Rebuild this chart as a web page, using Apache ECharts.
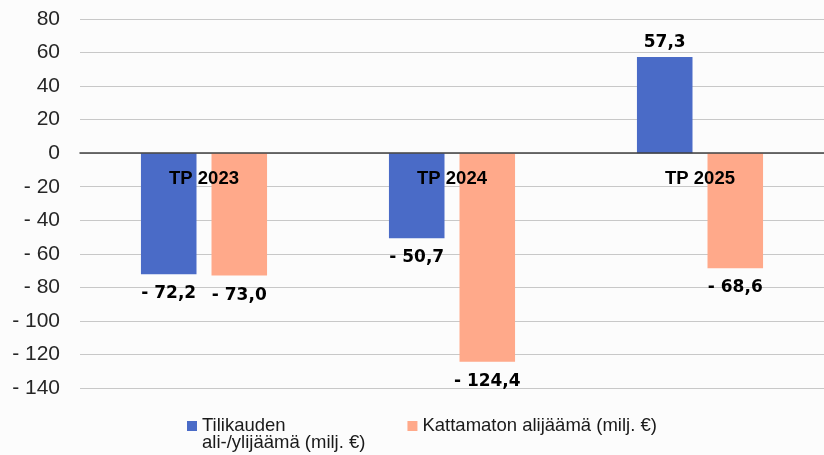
<!DOCTYPE html>
<html>
<head>
<meta charset="utf-8">
<script src="https://cdn.jsdelivr.net/npm/echarts@6/dist/echarts.min.js"></script>
<style>
html,body{margin:0;padding:0;background:#fcfcfc;}
#chart{width:824px;height:455px;}
</style>
</head>
<body>
<div id="chart"></div>
<script>
const categories = ['TP 2023', 'TP 2024', 'TP 2025'];
const seriesNames = ['Tilikauden\nali-/ylijäämä (milj. €)', 'Kattamaton alijäämä (milj. €)'];
const tilikaudenValues = [-72.2, -50.7, 57.3];
const kattamatonValues = [-73.0, -124.4, -68.6];
const yMin = -140, yMax = 80, yStep = 20;

function fmtNum(v) {
  const s = Math.abs(v).toFixed(1).replace('.', ',');
  return v < 0 ? '- ' + s : s;
}
function fmtTick(v) {
  return v < 0 ? '- ' + Math.abs(v) : String(v);
}
function withLabelDist(arr) {
  return arr.map(v => ({value: v, label: {distance: v < 0 ? 11 : 6}}));
}

const GRID_TOP = 19, GRID_BOTTOM = 67, H = 455;
const plotH = H - GRID_TOP - GRID_BOTTOM;
const zeroFromBottom = plotH * (0 - yMin) / (yMax - yMin);

const chart = echarts.init(document.getElementById('chart'), null, {renderer: 'canvas'});
const font = 'Liberation Sans, Arial, sans-serif';
const labelCfg = {
  show: true,
  position: 'outside',
  distance: 8,
  fontFamily: 'DejaVu Sans, sans-serif',
  fontSize: 17,
  fontWeight: 'bold',
  color: '#000',
  formatter: p => fmtNum(p.value)
};
chart.setOption({
  backgroundColor: '#fcfcfc',
  animation: false,
  textStyle: {fontFamily: font},
  grid: {left: 80, right: -7, top: GRID_TOP, bottom: GRID_BOTTOM},
  legend: {
    data: seriesNames,
    left: 187,
    top: 400,
    padding: 0,
    itemWidth: 10,
    itemHeight: 10,
    itemGap: 42,
    icon: 'rect',
    formatter: n => (n.indexOf('\n') >= 0 ? '\n' + n : n),
    textStyle: {fontFamily: font, fontSize: 18.5, lineHeight: 16.5, color: '#1a1a1a'}
  },
  xAxis: {
    type: 'category',
    data: categories,
    z: 10,
    axisLine: {onZero: true, lineStyle: {color: '#404040', width: 1.5}},
    axisTick: {show: false},
    axisLabel: {fontFamily: font, fontSize: 18.5, fontWeight: 'bold', color: '#000', margin: 16 - zeroFromBottom}
  },
  yAxis: {
    type: 'value',
    min: yMin,
    max: yMax,
    interval: yStep,
    axisLine: {show: false},
    axisTick: {show: false},
    splitLine: {lineStyle: {color: '#c8c8c8', width: 1}},
    axisLabel: {fontFamily: font, fontSize: 21, color: '#262626', margin: 20, formatter: fmtTick}
  },
  series: [
    {
      name: seriesNames[0],
      type: 'bar',
      data: withLabelDist(tilikaudenValues),
      barWidth: '22.4%',
      barGap: '27%',
      itemStyle: {color: '#4A6BC7'},
      label: labelCfg
    },
    {
      name: seriesNames[1],
      type: 'bar',
      data: withLabelDist(kattamatonValues),
      barWidth: '22.4%',
      barGap: '27%',
      itemStyle: {color: '#FFA98A'},
      label: labelCfg
    }
  ]
});
</script>
</body>
</html>
